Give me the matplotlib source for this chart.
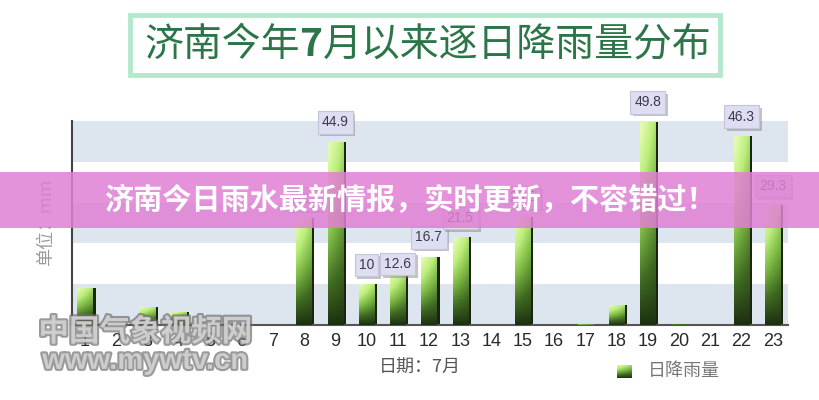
import numpy as np
import matplotlib
matplotlib.use('Agg')
import matplotlib.pyplot as plt
import matplotlib.patheffects as pe
from matplotlib.colors import LinearSegmentedColormap
from matplotlib.patches import Rectangle

plt.rcParams['font.family'] = ['Noto Sans CJK SC', 'DejaVu Sans']

# 数据
days = list(range(1, 24))
rain = [9.1, 0.3, 4.4, 3.2, 0, 0, 0, 26.2, 44.9, 10, 12.6, 16.7, 21.5, 0,
        26.5, 0, 0.2, 4.9, 49.8, 0.3, 0, 46.3, 29.3]
label_days = [8, 9, 10, 11, 12, 13, 15, 19, 22, 23]
label_text = {10: '10', 11: '12.6', 12: '16.7'}

title = '济南今年7月以来逐日降雨量分布'
banner = '济南今日雨水最新情报，实时更新，不容错过！'

fig = plt.figure(figsize=(8.2, 4.0), dpi=100)
ax = fig.add_axes([0.0878, 0.1875, 0.873, 0.51])

# 背景色带
for lo in (0, 20, 40):
    ax.axhspan(lo, lo + 10, color='#dde5ee', zorder=0, lw=0)

# 渐变色柱
cmap = LinearSegmentedColormap.from_list(
    'g', ['#1c3010', '#3f6a22', '#7cb844', '#bdee7c', '#e2fbb0'])
ny, nx = 64, 16
tv = np.linspace(0, 1, ny)[:, None]
th = np.linspace(0, 1, nx)[None, :]
grad = np.clip(tv ** 0.9 * (1.05 - 0.35 * th), 0, 1)
img = cmap(grad)

w = 0.48
edge = 0.12
for d, v in zip(days, rain):
    if v <= 0:
        continue
    ax.bar(d + w / 2 + edge / 2 - 0.02, v, width=edge, color='#1a2410',
           zorder=2, lw=0)
    b = ax.bar(d, v, width=w, color='none', lw=0, zorder=3)[0]
    im = ax.imshow(img, extent=(d - w / 2, d + w / 2, 0, v), origin='lower',
                   aspect='auto', zorder=3)
    im.set_clip_path(b)

# 数值标签（12.6 与 10 并排）
for d in label_days:
    v = rain[d - 1]
    txt = label_text.get(d, f'{v:.1f}')
    off = 7 if d == 11 else 14
    a = ax.annotate(txt, (d, v), xytext=(0, off), textcoords='offset points',
                    ha='center', va='center', fontsize=10, color='#3a3a48',
                    family=['Liberation Sans', 'DejaVu Sans'], zorder=5,
                    bbox=dict(boxstyle='square,pad=0.3', fc='#dedef2',
                              ec='#c4c4dc', lw=0.8))
    a.get_bbox_patch().set_path_effects(
        [pe.withSimplePatchShadow(offset=(2, -2), shadow_rgbFace='#888888',
                                  alpha=0.5)])

ax.set_xlim(0.585, 23.48)
ax.set_ylim(0, 50)
ax.set_xticks(days)
ax.set_xticklabels([str(d) for d in days],
                   family=['Liberation Sans Narrow', 'Liberation Sans'],
                   fontsize=13, color='#2a2a2a')
ax.tick_params(axis='x', length=0, pad=6)
ax.set_yticks([])
for s in ('top', 'right'):
    ax.spines[s].set_visible(False)
ax.spines['left'].set_color('#444444')
ax.spines['left'].set_linewidth(1.5)
ax.spines['bottom'].set_color('#555555')
ax.spines['bottom'].set_linewidth(1.5)
ax.patch.set_facecolor('white')

# 坐标轴文字
fig.text(0.056, 0.445, '单位：mm', rotation=90, ha='center', va='center',
         fontsize=13, color='#9a9a9a')
fig.text(0.512, 0.08, '日期：7月', ha='center', va='center', fontsize=13,
         color='#555555')

# 图例
lax = fig.add_axes([0.752, 0.055, 0.018, 0.033])
lax.imshow(img, origin='lower', aspect='auto')
lax.set_axis_off()
fig.text(0.79, 0.072, '日降雨量', ha='left', va='center', fontsize=13,
         color='#777777')

# 标题框
fig.patches.append(Rectangle((0.1585, 0.8125), 0.72, 0.15,
                             transform=fig.transFigure, fc='white',
                             ec='#b4e8cc', lw=3.5, zorder=1))
r = fig.canvas.get_renderer()
tc = '#2c7548'
x0 = 0.1765
t1 = fig.text(x0, 0.8875, title[:4], ha='left', va='center', fontsize=28,
              color=tc)
bb = t1.get_window_extent(r)
x1 = bb.x1 / fig.bbox.width
t2 = fig.text(x1, 0.8875, title[4], ha='left', va='center', fontsize=28,
              color=tc, weight='bold')
bb = t2.get_window_extent(r)
x2 = bb.x1 / fig.bbox.width
fig.text(x2, 0.8875, title[5:], ha='left', va='center', fontsize=28, color=tc)

# 水印
wm = [pe.Stroke(linewidth=3, foreground='#707070', alpha=0.7), pe.Normal()]
fig.text(0.177, 0.17, '中国气象视频网', ha='center', va='center', fontsize=22,
         color='#d8d8d8', alpha=0.85, weight='bold', path_effects=wm,
         zorder=6)
fig.text(0.177, 0.098, 'www.mywtv.cn', ha='center', va='center', fontsize=21,
         color='#d8d8d8', alpha=0.85, weight='bold',
         family=['Liberation Sans Narrow', 'Liberation Sans'],
         path_effects=wm, zorder=6)

# 粉色横幅
fig.patches.append(Rectangle((0, 0.43), 1, 0.14, transform=fig.transFigure,
                             fc='#e07fd3', alpha=0.85, lw=0, zorder=10))
fig.text(0.5, 0.5, banner, ha='center', va='center', fontsize=21,
         color='white', weight='bold', zorder=11)

fig.savefig('out.png', dpi=100)
